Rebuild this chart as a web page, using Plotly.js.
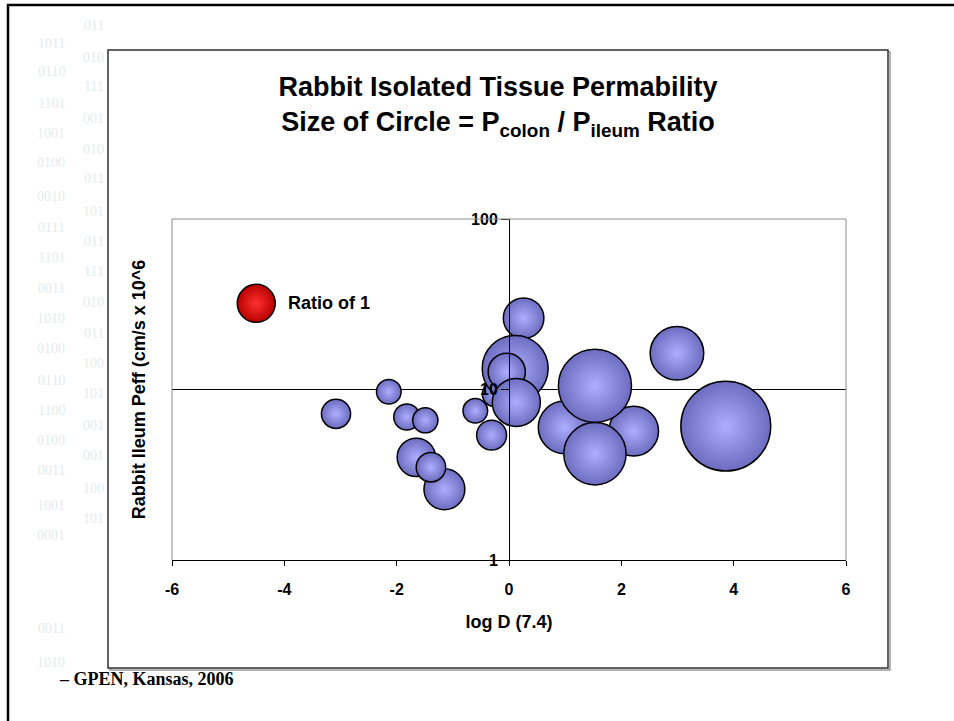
<!DOCTYPE html>
<html>
<head>
<meta charset="utf-8">
<script src="https://cdn.plot.ly/plotly-3.0.1.min.js"></script>
<style>
  html, body { margin: 0; padding: 0; background: #ffffff; overflow: hidden; }
  #chart { width: 954px; height: 721px; }
</style>
</head>
<body>
<div id="chart"></div>
<script>
// ---- Data ----
// compounds: log D (pH 7.4), rabbit ileum Peff (cm/s x 10^6), colon/ileum ratio (bubble size)
const logD  = [-3.08, -2.14, -1.82, -1.49, -1.15, -1.65, -1.39, -0.60, -0.31, -0.25, 0.26, 0.11, -0.04, 0.13, 0.99, 2.22, 1.53, 1.53, 2.99, 3.86];
const peff  = [ 7.2,   9.7,   6.9,   6.6,   2.6,   4.0,   3.5,   7.5,   5.4,   9.4,  26.2, 13.3, 12.7,  8.4,  6.0,  5.7, 10.5,  4.2, 16.3,  6.1];
const ratio = [ 0.59,  0.42,  0.47,  0.44,  1.16,  1.02,  0.60,  0.42,  0.62,  0.44, 1.14, 3.01, 0.96,  1.60, 1.92, 1.71, 3.70,  2.69, 1.99, 5.60];

// reference bubble "Ratio of 1"
const refLogD  = [-4.5];
const refPeff  = [32];
const refRatio = [1];
const refLabel = "Ratio of 1";

const xTicks = [-6, -4, -2, 0, 2, 4, 6];
const xTickText = ["-6", "-4", "-2", "0", "2", "4", "6"];
const yTicks = [1, 10, 100];
const yTickText = ["1", "10", "100"];

const titleLine1 = "Rabbit Isolated Tissue Permability";
const titleLine2 = "Size of Circle = P<sub>colon</sub> / P<sub>ileum</sub> Ratio";
const xTitle = "log D (7.4)";
const yTitle = "Rabbit Ileum Peff (cm/s x 10^6";
const footnote = "\u2013 GPEN, Kansas, 2006";

// faint slide background digits
const bgCol1 = ["1011","0110","1101","1001","0100","0010","0111","1101","0011","1010","0100","0110","1100","0100","0011","1001","0001","0011","1010"];
const bgCol1Y = [43,72,103,133,163,196,227,257,288,318,348,380,410,440,470,505,535,628,662];
const bgCol2 = ["011","010","111","001","010","011","101","011","111","010","011","100","101","001","001","100","101"];
const bgCol2Y = [25,57,87,118,149,178,211,241,271,302,333,363,393,425,455,488,518];

// ---- Layout geometry (pixels) ----
const W = 954, H = 721;
const PL = 172, PR = 846, PT = 219, PB = 560;
const px = v => (v - PL) / (PR - PL);
const py = v => (PB - v) / (PB - PT);

const FONT = "Liberation Sans, Arial, Helvetica, sans-serif";
const BUBBLE_D = 38; // px diameter of a ratio-1 bubble

const bubbleTrace = {
  type: "scatter", mode: "markers",
  x: logD, y: peff, xaxis: "x", yaxis: "y",
  marker: {
    size: ratio, sizemode: "area", sizeref: 2 / (BUBBLE_D * BUBBLE_D),
    color: "#6c6cc0",
    gradient: { type: "radial", color: "#aeaeff" },
    line: { color: "#000000", width: 1.5 },
    opacity: 1
  },
  hoverinfo: "x+y", showlegend: false
};
const refTrace = {
  type: "scatter", mode: "markers",
  x: refLogD, y: refPeff, xaxis: "x2", yaxis: "y2",
  marker: {
    size: refRatio, sizemode: "area", sizeref: 2 / (BUBBLE_D * BUBBLE_D),
    color: "#b80000",
    gradient: { type: "radial", color: "#ff3030" },
    line: { color: "#000000", width: 1.5 },
    opacity: 1
  },
  hoverinfo: "skip", showlegend: false
};

const annotations = [
  {
    xref: "x", yref: "y", x: refLogD[0], y: Math.log10(refPeff[0]),
    xanchor: "left", yanchor: "middle", xshift: 30, showarrow: false,
    text: refLabel, font: { family: FONT, size: 18, weight: "bold", color: "#000" }
  },
  {
    xref: "paper", yref: "paper", x: px(57), y: py(679),
    xanchor: "left", yanchor: "middle", showarrow: false,
    text: footnote, font: { family: "Liberation Serif, Times New Roman, serif", size: 18, weight: "bold", color: "#000" }
  }
];
bgCol1.forEach((t, i) => annotations.push({
  xref: "paper", yref: "paper", x: px(51), y: py(bgCol1Y[i]), xanchor: "center", yanchor: "middle",
  showarrow: false, text: t, font: { family: "Liberation Serif, serif", size: 14, color: "#e5ecec" }
}));
bgCol2.forEach((t, i) => annotations.push({
  xref: "paper", yref: "paper", x: px(106), y: py(bgCol2Y[i]), xanchor: "right", yanchor: "middle",
  showarrow: false, text: t, font: { family: "Liberation Serif, serif", size: 14, color: "#e5ecec" }
}));

const shapes = [
  // frame shadow
  { type: "rect", xref: "paper", yref: "paper", layer: "below",
    x0: px(110), x1: px(890), y0: py(670), y1: py(52),
    line: { color: "#9a9a9a", width: 1.5 }, fillcolor: "rgba(0,0,0,0)" },
  // chart frame
  { type: "rect", xref: "paper", yref: "paper", layer: "below",
    x0: px(108), x1: px(888), y0: py(668), y1: py(50),
    line: { color: "#303030", width: 1.5 }, fillcolor: "#ffffff" },
  // slide border (left and top)
  { type: "path", xref: "paper", yref: "paper", layer: "above",
    path: `M ${px(8)},${py(H + 5)} L ${px(8)},${py(5)} L ${px(W + 5)},${py(5)}`,
    line: { color: "#000000", width: 2.5 } },
  // plot-area border: left, top, right (grey)
  { type: "path", xref: "paper", yref: "paper", layer: "above",
    path: "M 0,0 L 0,1 L 1,1 L 1,0",
    line: { color: "#8c8c8c", width: 1 } }
];

const layout = {
  width: W, height: H,
  margin: { l: PL, r: W - PR, t: PT, b: H - PB, pad: 0 },
  paper_bgcolor: "#ffffff",
  plot_bgcolor: "rgba(0,0,0,0)",
  font: { family: FONT, color: "#000000" },
  showlegend: false,
  title: {
    text: titleLine1 + "<br>" + titleLine2,
    font: { family: FONT, size: 27, weight: "bold", color: "#000" },
    xref: "container", yref: "container",
    x: 498 / W, xanchor: "center",
    y: 1 - 96 / H, yanchor: "top"
  },
  xaxis: {
    range: [-6, 6], autorange: false,
    tickmode: "array", tickvals: [0],
    showticklabels: false, ticks: "",
    showgrid: true, gridcolor: "#000000", gridwidth: 1,
    showline: false, zeroline: false,
    automargin: false
  },
  // visible log D axis at the bottom
  xaxis2: {
    overlaying: "x", anchor: "y", side: "bottom",
    range: [-6, 6], autorange: false,
    tickmode: "array", tickvals: xTicks, ticktext: xTickText,
    ticks: "outside", ticklen: 5, tickcolor: "#000", tickwidth: 1,
    showline: true, linecolor: "#000", linewidth: 1,
    showgrid: false, zeroline: false,
    ticklabelstandoff: 10,
    tickfont: { family: FONT, size: 16, weight: "bold", color: "#000" },
    title: { text: xTitle, standoff: 18, font: { family: FONT, size: 18, weight: "bold", color: "#000" } },
    automargin: false
  },
  yaxis: {
    type: "log", range: [0, 2], autorange: false,
    tickmode: "array", tickvals: [10],
    showticklabels: false, ticks: "",
    showgrid: true, gridcolor: "#000000", gridwidth: 1,
    showline: false, zeroline: false,
    title: { text: yTitle, standoff: 20, font: { family: FONT, size: 18, weight: "bold", color: "#000" } },
    automargin: false
  },
  // value axis crossing at log D = 0
  yaxis2: {
    overlaying: "y", anchor: "free", position: 0.5, side: "left",
    type: "log", range: [0, 2], autorange: false,
    tickmode: "array", tickvals: yTicks, ticktext: yTickText,
    ticks: "outside", ticklen: 8, tickcolor: "#000", tickwidth: 1,
    showline: true, linecolor: "#000", linewidth: 1,
    showgrid: false, zeroline: false,
    layer: "above traces",
    tickfont: { family: FONT, size: 16, weight: "bold", color: "#000" },
    automargin: false
  },
  shapes: shapes,
  annotations: annotations
};

Plotly.newPlot("chart", [bubbleTrace, refTrace], layout, { staticPlot: true, displayModeBar: false });
</script>
</body>
</html>
